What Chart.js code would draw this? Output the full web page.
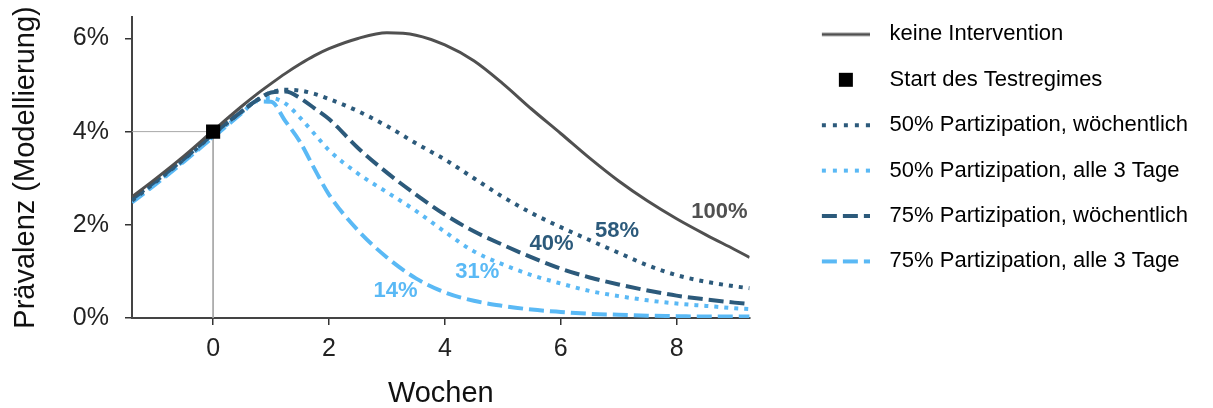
<!DOCTYPE html>
<html>
<head>
<meta charset="utf-8">
<script src="https://cdn.jsdelivr.net/npm/chart.js@4.4.1/dist/chart.umd.min.js"></script>
<style>
  html, body { margin: 0; padding: 0; background: #fff; }
  #wrap { width: 1213px; height: 408px; position: relative; }
</style>
</head>
<body>
<div id="wrap"><canvas id="chart"></canvas></div>
<script>
// Wochen relativ zum Start des Testregimes
const weeks = [-1.4, -1, -0.5, 0, 0.5, 0.75, 1, 1.25, 1.5, 1.75, 2, 2.5, 3, 3.5, 4, 4.5, 5, 5.5, 6, 6.5, 7, 7.5, 8, 8.5, 9, 9.26];

// Prävalenz in %
const keineIntervention = [2.6, 2.98, 3.48, 4.02, 4.55, 4.8, 5.03, 5.25, 5.45, 5.63, 5.78, 6.0, 6.12, 6.07, 5.86, 5.52, 5.03, 4.48, 3.96, 3.43, 2.94, 2.51, 2.13, 1.79, 1.47, 1.3];
const p50Woechentlich = [2.52, 2.91, 3.41, 3.94, 4.44, 4.67, 4.84, 4.9, 4.88, 4.81, 4.7, 4.44, 4.12, 3.75, 3.4, 3.0, 2.6, 2.25, 1.95, 1.67, 1.4, 1.13, 0.92, 0.78, 0.68, 0.64];
const p50Alle3Tage = [2.5, 2.88, 3.38, 3.9, 4.42, 4.67, 4.72, 4.6, 4.3, 3.95, 3.6, 3.1, 2.7, 2.3, 1.85, 1.43, 1.15, 0.92, 0.74, 0.58, 0.47, 0.38, 0.31, 0.26, 0.21, 0.19];
const p75Woechentlich = [2.55, 2.93, 3.42, 3.95, 4.44, 4.67, 4.84, 4.86, 4.72, 4.5, 4.27, 3.65, 3.12, 2.65, 2.22, 1.86, 1.57, 1.3, 1.06, 0.87, 0.72, 0.59, 0.48, 0.4, 0.33, 0.3];
const p75Alle3Tage = [2.48, 2.86, 3.36, 3.88, 4.4, 4.65, 4.64, 4.22, 3.78, 3.2, 2.65, 1.88, 1.3, 0.85, 0.55, 0.37, 0.26, 0.18, 0.13, 0.09, 0.07, 0.05, 0.04, 0.03, 0.03, 0.03];

// Start des Testregimes
const startWoche = 0;
const startPraevalenz = 4;

// Achsen
const xMin = -1.4, xMax = 9.26;
const yMin = 0, yMax = 6.46;
const xTicks = [0, 2, 4, 6, 8];
const yTicks = [0, 2, 4, 6];

// Anteil der Infektionen (Beschriftung an den Kurven)
const anteilText = ['100%', '58%', '40%', '31%', '14%'];
const anteilX = [8.74, 6.97, 5.84, 4.56, 3.15];
const anteilY = [2.27, 1.87, 1.58, 0.99, 0.58];

const grau = '#505050';
const dunkelblau = '#2c5a7b';
const hellblau = '#5ab9f5';
const anteilFarbe = [grau, dunkelblau, dunkelblau, hellblau, hellblau];

const FONT = "'Liberation Sans', Arial, Helvetica, sans-serif";

function punkte(werte) {
    return weeks.map((w, i) => ({ x: w, y: werte[i] }));
}

// kleine Legenden-Muster
function muster(art, farbe) {
    const c = document.createElement('canvas');
    c.width = 88;
    c.height = 20;
    const g = c.getContext('2d');
    if (art === 'quadrat') {
        g.fillStyle = '#000';
        g.fillRect(57, 3, 14, 14);
        return c;
    }
    g.strokeStyle = farbe;
    g.lineCap = 'butt';
    g.lineWidth = art === 'solid' ? 3 : 4;
    if (art === 'dot') g.setLineDash([4, 7]);
    if (art === 'dash') g.setLineDash([15, 6]);
    g.beginPath();
    g.moveTo(40, 10);
    g.lineTo(88, 10);
    g.stroke();
    return c;
}

const legendeEintraege = [
    { text: 'keine Intervention', pointStyle: muster('solid', grau) },
    { text: 'Start des Testregimes', pointStyle: muster('quadrat') },
    { text: '50% Partizipation, wöchentlich', pointStyle: muster('dot', dunkelblau) },
    { text: '50% Partizipation, alle 3 Tage', pointStyle: muster('dot', hellblau) },
    { text: '75% Partizipation, wöchentlich', pointStyle: muster('dash', dunkelblau) },
    { text: '75% Partizipation, alle 3 Tage', pointStyle: muster('dash', hellblau) }
];

const anteilPlugin = {
    id: 'anteile',
    afterDatasetsDraw(chart) {
        const { ctx, scales } = chart;
        ctx.save();
        ctx.font = 'bold 22px ' + FONT;
        ctx.textAlign = 'center';
        ctx.textBaseline = 'middle';
        anteilText.forEach((t, i) => {
            ctx.fillStyle = anteilFarbe[i];
            ctx.fillText(t, scales.x.getPixelForValue(anteilX[i]), scales.y.getPixelForValue(anteilY[i]));
        });
        ctx.restore();
    }
};

const ctx = document.getElementById('chart').getContext('2d');

new Chart(ctx, {
    type: 'line',
    data: {
        datasets: [
            {
                label: 'Start des Testregimes',
                data: [{ x: startWoche, y: startPraevalenz }],
                showLine: false,
                pointStyle: 'rect',
                pointRadius: 10,
                pointBackgroundColor: '#000',
                pointBorderWidth: 0,
                order: 0
            },
            {
                label: 'keine Intervention',
                data: punkte(keineIntervention),
                borderColor: grau,
                borderWidth: 3,
                order: 1
            },
            {
                label: '50% Partizipation, wöchentlich',
                data: punkte(p50Woechentlich),
                borderColor: dunkelblau,
                borderWidth: 4,
                borderDash: [4, 6],
                order: 2
            },
            {
                label: '75% Partizipation, wöchentlich',
                data: punkte(p75Woechentlich),
                borderColor: dunkelblau,
                borderWidth: 4,
                borderDash: [15, 6],
                order: 3
            },
            {
                label: '50% Partizipation, alle 3 Tage',
                data: punkte(p50Alle3Tage),
                borderColor: hellblau,
                borderWidth: 4,
                borderDash: [4, 6],
                order: 4
            },
            {
                label: '75% Partizipation, alle 3 Tage',
                data: punkte(p75Alle3Tage),
                borderColor: hellblau,
                borderWidth: 4,
                borderDash: [15, 6],
                order: 5
            },
            {
                label: 'Hilfslinien',
                data: [{ x: xMin, y: startPraevalenz }, { x: startWoche, y: startPraevalenz }, { x: startWoche, y: yMin }],
                borderColor: '#a8a8a8',
                borderWidth: 1,
                cubicInterpolationMode: 'default',
                tension: 0,
                order: 6
            }
        ]
    },
    options: {
        responsive: true,
        maintainAspectRatio: false,
        animation: false,
        layout: { padding: { top: 0, right: 15, bottom: 0, left: 0 } },
        elements: {
            point: { radius: 0, hoverRadius: 0 },
            line: { cubicInterpolationMode: 'monotone', borderCapStyle: 'butt', fill: false }
        },
        scales: {
            x: {
                type: 'linear',
                min: xMin,
                max: xMax,
                afterBuildTicks: (s) => { s.ticks = xTicks.map(v => ({ value: v })); },
                afterFit: (s) => { s.height = 90; },
                grid: { drawOnChartArea: false, tickLength: 7, color: '#333', lineWidth: 1.5 },
                border: { color: '#444', width: 2 },
                ticks: { color: '#222', padding: 9, font: { family: FONT, size: 25 } },
                title: { display: true, text: 'Wochen', color: '#111', padding: 0, font: { family: FONT, size: 29, lineHeight: 1 } }
            },
            y: {
                min: yMin,
                max: yMax,
                afterBuildTicks: (s) => { s.ticks = yTicks.map(v => ({ value: v })); },
                afterFit: (s) => { s.width = 132; s.paddingTop = 0; s.paddingBottom = 0; },
                grid: { drawOnChartArea: false, tickLength: 7, color: '#333', lineWidth: 1.5 },
                border: { color: '#444', width: 2 },
                ticks: { color: '#222', padding: 16, font: { family: FONT, size: 25 }, callback: (v) => v + '%' },
                title: { display: true, text: 'Prävalenz (Modellierung)', color: '#111', padding: { top: 11.5, bottom: 0 }, font: { family: FONT, size: 29, lineHeight: 1 } }
            }
        },
        plugins: {
            tooltip: { enabled: false },
            title: { display: true, text: '', fullSize: false, padding: 0, font: { size: 17, lineHeight: 1 } },
            legend: {
                position: 'right',
                align: 'start',
                maxWidth: 600,
                labels: {
                    usePointStyle: true,
                    pointStyleWidth: 105.6,
                    padding: 23.4,
                    color: '#111',
                    font: { family: FONT, size: 22 },
                    generateLabels: () => legendeEintraege.map((e, i) => ({
                        text: e.text,
                        pointStyle: e.pointStyle,
                        fillStyle: 'transparent',
                        strokeStyle: 'transparent',
                        lineWidth: 0,
                        hidden: false,
                        datasetIndex: i
                    }))
                }
            }
        }
    },
    plugins: [anteilPlugin]
});
</script>
</body>
</html>
